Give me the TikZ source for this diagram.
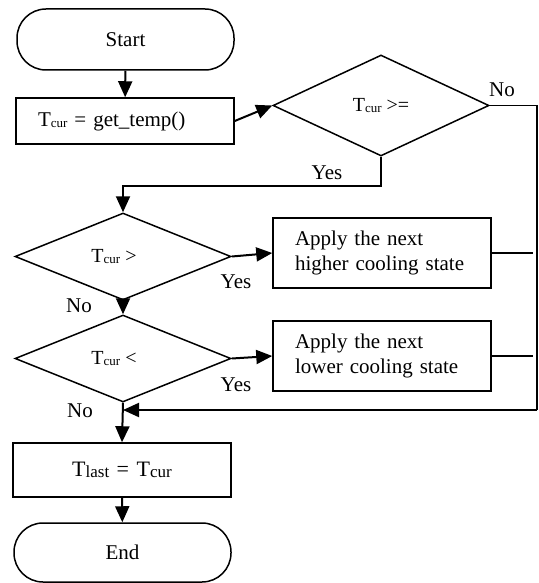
\documentclass[tikz,border=0pt]{standalone}
\usepackage{fontspec}
\setmainfont{Liberation Serif}
\usetikzlibrary{shapes.geometric,arrows.meta}
\newcommand{\subt}[2]{\raisebox{-1.5pt}{\fontsize{#2}{#2}\selectfont #1}}
\begin{document}
\begin{tikzpicture}[x=1pt,y=-1pt,
  every node/.style={font=\fontsize{21}{25}\selectfont},
  shapeline/.style={draw, line width=1.5pt},
  term/.style={shapeline, rounded corners=29pt, minimum width=217pt, minimum height=61pt, inner sep=0pt},
  procbox/.style={shapeline, minimum width=218pt, inner sep=0pt},
  leftbox/.style={procbox, text width=174pt, align=left, inner xsep=22pt},
  decision/.style={shapeline, diamond, aspect=2, inner sep=0pt, minimum width=216pt, font=\fontsize{20}{24}\selectfont},
  flow/.style={line width=2pt, -{Triangle[length=16pt,width=14pt]}},
  plainline/.style={line width=1.5pt},
  lbl/.style={inner sep=0pt}
]
\useasboundingbox (0,0) rectangle (538,583);

\node[term] (start) at (125.5,39.5) {Start};
\node[leftbox, minimum height=46pt] (get) at (125,121) {T\subt{cur}{13} = get\_temp()};
\node[decision, minimum height=101pt] (d1) at (381,105.5) {T\subt{cur}{13} >=};
\node[decision, minimum height=87pt] (d2) at (123,256.5) {T\subt{cur}{13} >\hspace*{18pt}};
\node[decision, minimum height=87pt] (d3) at (123,358.5) {T\subt{cur}{13} <\hspace*{18pt}};
\node[leftbox, minimum height=70pt] (hi) at (382,253) {Apply the next\\higher cooling state};
\node[leftbox, minimum height=70pt] (lo) at (382,356) {Apply the next\\lower cooling state};
\node[procbox, minimum height=54pt, font=\fontsize{22}{26}\selectfont] (last) at (122,470) {T\subt{last}{17}\hspace{2pt} = \hspace{2pt}T\subt{cur}{17}};
\node[term, minimum height=59pt] (end) at (122.5,552.5) {End};

\coordinate (rc) at (537,410);

\draw[flow] (start) -- (get);
\draw[flow] (get.east) -- (d1.west);
\draw[flow] (d1.south) -- ++(0,29) -| (d2.north);
\draw[flow] (d2.east) -- (hi.west);
\draw[flow] (d2.south) -- (d3.north);
\draw[flow] (d3.east) -- (lo.west);
\draw[flow] (d3.south) -- (last.north);
\draw[flow] (last) -- (end);
\draw[plainline] (d1.east) -| (rc);
\draw[flow] (rc) -- (d3.south |- rc);
\draw[plainline] (hi.east) -- ++(41,0);
\draw[plainline] (lo.east) -- ++(41,0);

\node[lbl] (no1) at (502,90) {No};
\node[lbl] (yes1) at (327,173) {Yes};
\node[lbl] (yes2) at (236,282) {Yes};
\node[lbl] (no2) at (79,306) {No};
\node[lbl] (yes3) at (236,385) {Yes};
\node[lbl] (no3) at (80,411) {No};
\end{tikzpicture}
\end{document}
